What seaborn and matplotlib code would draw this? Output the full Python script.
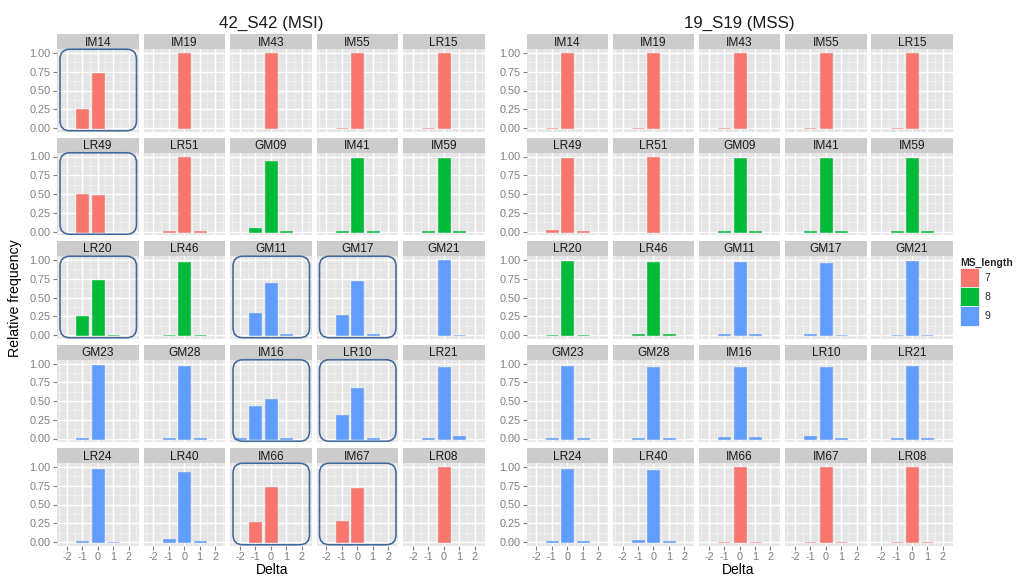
import numpy as np
import pandas as pd
import matplotlib
matplotlib.use("Agg")
import matplotlib.pyplot as plt
from matplotlib.patches import FancyBboxPatch, Patch
import seaborn as sns

# ---------------- data ----------------
markers = ["IM14", "IM19", "IM43", "IM55", "LR15",
           "LR49", "LR51", "GM09", "IM41", "IM59",
           "LR20", "LR46", "GM11", "GM17", "GM21",
           "GM23", "GM28", "IM16", "LR10", "LR21",
           "LR24", "LR40", "IM66", "IM67", "LR08"]
ms_length = [7, 7, 7, 7, 7,
             7, 7, 8, 8, 8,
             8, 8, 9, 9, 9,
             9, 9, 9, 9, 9,
             9, 9, 7, 7, 7]
deltas = [-2, -1, 0, 1, 2]

# relative frequency for Delta = -2, -1, 0, 1, 2 (0 = not observed)
msi_freq = [
    [0, 0.26, 0.74, 0, 0], [0, 0, 1.0, 0, 0], [0, 0, 1.0, 0, 0], [0, 0.003, 1.0, 0, 0], [0, 0.003, 1.0, 0, 0],
    [0, 0.50, 0.49, 0, 0], [0, 0.003, 1.0, 0.003, 0], [0, 0.05, 0.94, 0.005, 0], [0, 0.01, 0.98, 0.01, 0], [0, 0.01, 0.98, 0.01, 0],
    [0, 0.26, 0.73, 0.005, 0], [0, 0.005, 0.98, 0.005, 0], [0, 0.29, 0.70, 0.01, 0], [0, 0.27, 0.72, 0.01, 0], [0, 0, 1.0, 0.003, 0],
    [0, 0.01, 0.98, 0, 0], [0, 0.01, 0.97, 0.01, 0], [0.01, 0.44, 0.53, 0.01, 0], [0, 0.31, 0.68, 0.01, 0], [0, 0.01, 0.95, 0.03, 0],
    [0, 0.02, 0.98, 0.003, 0], [0, 0.04, 0.94, 0.01, 0], [0, 0.27, 0.73, 0, 0], [0, 0.28, 0.72, 0, 0], [0, 0, 1.0, 0, 0],
]
mss_freq = [
    [0, 0.005, 1.0, 0, 0], [0, 0.003, 1.0, 0, 0], [0, 0.003, 1.0, 0, 0], [0, 0.003, 1.0, 0, 0], [0, 0.003, 1.0, 0, 0],
    [0, 0.02, 0.98, 0.003, 0], [0, 0, 1.0, 0, 0], [0, 0.01, 0.98, 0.003, 0], [0, 0.005, 0.98, 0.01, 0], [0, 0.01, 0.98, 0.01, 0],
    [0, 0.005, 0.99, 0.005, 0], [0, 0.01, 0.98, 0.01, 0], [0, 0.01, 0.97, 0.01, 0], [0, 0.02, 0.96, 0.005, 0], [0, 0.003, 0.99, 0.003, 0],
    [0, 0.01, 0.97, 0.01, 0], [0, 0.01, 0.96, 0.01, 0], [0, 0.02, 0.95, 0.02, 0], [0, 0.03, 0.95, 0.01, 0], [0, 0.01, 0.97, 0.01, 0],
    [0, 0.01, 0.98, 0.01, 0], [0, 0.03, 0.96, 0.01, 0], [0, 0.005, 1.0, 0.003, 0], [0, 0.003, 1.0, 0.003, 0], [0, 0.003, 1.0, 0.003, 0],
]
samples = ["42_S42 (MSI)", "19_S19 (MSS)"]
highlight_msi = ["IM14", "LR49", "LR20", "GM11", "GM17", "IM16", "LR10", "IM66", "IM67"]

palette = {7: "#F8766D", 8: "#00BA38", 9: "#619CFF"}

rows = []
for s, freqs in zip(samples, [msi_freq, mss_freq]):
    for m, L, fr in zip(markers, ms_length, freqs):
        for d, v in zip(deltas, fr):
            if v > 0:
                rows.append(dict(sample=s, marker=m, MS_length=L, Delta=d, freq=v))
df = pd.DataFrame(rows)

# ---------------- style ----------------
sns.set_theme(style="darkgrid")
plt.rcParams["font.family"] = ["Liberation Sans", "DejaVu Sans"]

W, H = 1028, 576
fig = plt.figure(figsize=(W / 100, H / 100), dpi=100)
fig.patch.set_facecolor("white")

def fig_rect(left, top, w, h):
    return [left / W, 1 - (top + h) / H, w / W, h / H]

grid_left = [57.0, 526.5]
col_pitch = [86.5, 86.2]
pw, ph = 81.5, 82.5
row_top0, row_pitch = 49.25, 103.5
strip_h = 15.0
tick_grey = "#7F7F7F"

for gi, s in enumerate(samples):
    sub_s = df[df["sample"] == s]
    for i, m in enumerate(markers):
        r, c = divmod(i, 5)
        left = grid_left[gi] + c * col_pitch[gi]
        top = row_top0 + r * row_pitch
        ax = fig.add_axes(fig_rect(left, top, pw, ph))
        sub = sub_s[sub_s["marker"] == m]
        col = palette[ms_length[i]]
        sns.barplot(data=sub, x="Delta", y="freq", order=deltas,
                    color=col, saturation=1, width=0.78,
                    errorbar=None, linewidth=0.4, edgecolor=col, ax=ax)
        ax.set_facecolor("#E5E5E5")
        ax.set_xlim(-0.65, 4.65)
        ax.set_ylim(-0.05, 1.05)
        ax.set_xticks(range(5))
        ax.set_xticklabels([str(d) for d in deltas])
        ax.set_yticks([0, 0.25, 0.5, 0.75, 1.0])
        ax.set_yticklabels(["0.00", "0.25", "0.50", "0.75", "1.00"])
        ax.set_xticks(np.arange(-0.5, 5.0, 1.0), minor=True)
        ax.set_yticks(np.arange(0.125, 1.0, 0.25), minor=True)
        ax.grid(which="major", color="white", linewidth=1.0)
        ax.grid(which="minor", color="#F4F4F4", linewidth=0.5)
        ax.set_axisbelow(True)
        for sp in ax.spines.values():
            sp.set_visible(False)
        ax.set_xlabel("")
        ax.set_ylabel("")
        ax.tick_params(which="minor", length=0)
        ax.tick_params(which="major", labelsize=7.8, labelcolor=tick_grey,
                       color=tick_grey, length=3, width=0.8, pad=1.5)
        ax.tick_params(axis="y", left=(c == 0), labelleft=(c == 0))
        ax.tick_params(axis="x", bottom=(r == 4), labelbottom=(r == 4))
        # strip
        sax = fig.add_axes(fig_rect(left, top - strip_h, pw, strip_h))
        sax.set_facecolor("#CCCCCC")
        sax.set_xticks([]); sax.set_yticks([])
        sax.grid(False)
        for sp in sax.spines.values():
            sp.set_visible(False)
        sax.text(0.5, 0.45, m, ha="center", va="center", fontsize=8.6,
                 color="#1A1A1A", transform=sax.transAxes)
        # highlight boxes
        if gi == 0 and m in highlight_msi:
            bx0 = (left + 3) / 100
            by0 = (H - (top + ph - 1)) / 100
            bw = (pw - 5) / 100
            bh = (ph - 1) / 100
            box = FancyBboxPatch((bx0, by0), bw, bh,
                                 boxstyle="round,pad=0,rounding_size=0.1",
                                 transform=fig.dpi_scale_trans,
                                 fill=False, edgecolor="#41689A", linewidth=1.15,
                                 zorder=10)
            fig.patches.append(box)

# titles and labels
fig.text(271 / W, 1 - 23 / H, samples[0], ha="center", va="center", fontsize=12.2, color="#1A1A1A")
fig.text(739 / W, 1 - 23 / H, samples[1], ha="center", va="center", fontsize=12.2, color="#1A1A1A")
fig.text(272 / W, 1 - 570 / H, "Delta", ha="center", va="center", fontsize=10, color="black")
fig.text(738 / W, 1 - 570 / H, "Delta", ha="center", va="center", fontsize=10, color="black")
fig.text(15 / W, 1 - 298 / H, "Relative frequency", ha="center", va="center",
         rotation=90, fontsize=10.2, color="black")

handles = [Patch(facecolor=palette[k], edgecolor="white", linewidth=0.5) for k in [7, 8, 9]]
leg = fig.legend(handles, ["7", "8", "9"], title="MS_length",
                 loc="upper left", bbox_to_anchor=(960 / W, 1 - 258 / H),
                 frameon=False, fontsize=7.5, handlelength=1.85, handleheight=2.45,
                 labelspacing=0.0, handletextpad=0.5, borderpad=0.0,
                 borderaxespad=0.0)
leg.get_title().set_fontweight("bold")
leg.get_title().set_fontsize(7.5)
leg._legend_box.align = "left"

fig.savefig("out.png", dpi=100, facecolor="white")
